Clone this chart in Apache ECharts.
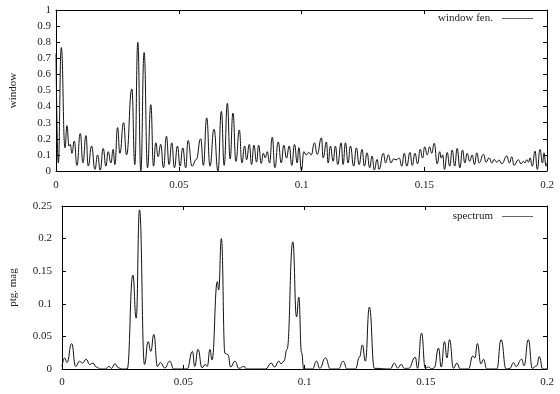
<!DOCTYPE html>
<html>
<head>
<meta charset="utf-8">
<script src="https://cdn.jsdelivr.net/npm/echarts@6/dist/echarts.min.js"></script>
<style>
html,body{margin:0;padding:0;background:#fff;}
#chart{width:560px;height:394px;}
</style>
</head>
<body>
<div id="chart"></div>
<script>
// ---- data ----
const xTicks = [0, 0.05, 0.1, 0.15, 0.2];
const winTicks = [0, 0.1, 0.2, 0.3, 0.4, 0.5, 0.6, 0.7, 0.8, 0.9, 1];
const specTicks = [0, 0.05, 0.1, 0.15, 0.2, 0.25];
const winName = 'window fen.';
const specName = 'spectrum';
const winAxisTitle = 'window';
const specAxisTitle = 'ptg. mag';

const winX = [0,0.00093,0.00215,0.00366,0.00447,0.00528,0.00581,0.0065,0.00744,0.00854,0.00988,0.01098,0.0122,0.01313,0.01451,0.01585,0.01695,0.01801,0.01923,0.02033,0.02126,0.02236,0.02329,0.02398,0.02508,0.02602,0.02752,0.02874,0.03089,0.03211,0.03333,0.03455,0.03589,0.03728,0.03862,0.03972,0.04065,0.04159,0.04268,0.04378,0.045,0.04606,0.04715,0.04825,0.04947,0.05053,0.05163,0.05285,0.05378,0.05541,0.0571,0.05894,0.06004,0.06138,0.06272,0.06435,0.06598,0.06736,0.0685,0.0698,0.07093,0.07207,0.07329,0.07467,0.07573,0.07683,0.07764,0.07874,0.07967,0.08061,0.08171,0.08252,0.08362,0.08443,0.08524,0.08606,0.08699,0.08809,0.08915,0.09053,0.09175,0.0928,0.0939,0.095,0.09606,0.09715,0.09825,0.0989,0.1,0.10093,0.10191,0.10297,0.10395,0.10528,0.10638,0.10813,0.10882,0.11016,0.11085,0.11179,0.11289,0.11382,0.11476,0.11614,0.11695,0.11789,0.11898,0.11992,0.12126,0.12236,0.12346,0.12467,0.12561,0.12671,0.12776,0.12874,0.12967,0.13077,0.13159,0.13333,0.13427,0.13537,0.13646,0.1374,0.13862,0.13984,0.14085,0.14187,0.14289,0.14419,0.14512,0.14622,0.14728,0.14837,0.14931,0.1502,0.15122,0.15215,0.15305,0.15407,0.15528,0.1563,0.15691,0.15752,0.15825,0.15935,0.16037,0.16138,0.1624,0.16341,0.16451,0.16557,0.16654,0.16748,0.1685,0.16951,0.17045,0.17142,0.17236,0.17411,0.1752,0.17642,0.17752,0.17846,0.17955,0.18049,0.18159,0.18362,0.18467,0.18565,0.18659,0.18833,0.18943,0.19037,0.19106,0.19175,0.19248,0.19309,0.19402,0.19512,0.19606,0.19715,0.19817,0.19878,0.19959,0.2];
const winY = [0.73,0.05,0.767,0.144,0.282,0.155,0.165,0.11,0.186,0.035,0.233,0.051,0.22,0.031,0.155,0.01,0.1,0.006,0.14,0.03,0.12,0.05,0.134,0.04,0.27,0.11,0.3,0.1,0.51,0.04,0.8,0.0,0.736,0.02,0.412,0.03,0.175,0.09,0.165,0.02,0.216,0.04,0.175,0.02,0.155,0.03,0.144,0.02,0.19,0.03,0.07,0.2,0.035,0.33,0.03,0.26,0.0,0.37,0.035,0.42,0.075,0.36,0.06,0.255,0.05,0.155,0.07,0.165,0.04,0.16,0.055,0.16,0.047,0.11,0.082,0.12,0.05,0.21,0.02,0.18,0.05,0.16,0.08,0.155,0.035,0.165,0.05,0.145,0.005,0.12,0.1,0.115,0.1,0.175,0.103,0.206,0.082,0.18,0.05,0.155,0.06,0.155,0.04,0.175,0.04,0.175,0.05,0.155,0.03,0.144,0.04,0.134,0.03,0.113,0.02,0.093,0.006,0.072,0.01,0.11,0.05,0.1,0.05,0.075,0.07,0.08,0.03,0.11,0.03,0.115,0.035,0.11,0.045,0.135,0.08,0.15,0.1,0.15,0.11,0.172,0.045,0.12,0.08,0.1,0.01,0.115,0.03,0.13,0.03,0.14,0.02,0.13,0.05,0.11,0.06,0.1,0.04,0.113,0.05,0.103,0.055,0.082,0.05,0.072,0.055,0.068,0.045,0.093,0.05,0.088,0.035,0.07,0.045,0.06,0.05,0.07,0.055,0.082,0.03,0.124,0.01,0.134,0.05,0.113,0.03,0.05];

const specX = [0,0.0011,0.00206,0.00398,0.00562,0.00727,0.00837,0.01001,0.01139,0.01276,0.01413,0.01591,0.01797,0.01934,0.02044,0.02181,0.02346,0.02483,0.02689,0.02922,0.03059,0.03196,0.03402,0.03553,0.03663,0.03786,0.03937,0.0406,0.04239,0.04444,0.04609,0.05158,0.05379,0.05473,0.05609,0.05775,0.05912,0.0599,0.06103,0.06185,0.06407,0.06461,0.06572,0.0672,0.06844,0.06955,0.07132,0.07296,0.07502,0.07613,0.08395,0.0863,0.08765,0.08942,0.09033,0.09148,0.0928,0.09519,0.09671,0.09765,0.09877,0.09971,0.10329,0.10494,0.1063,0.10864,0.1107,0.11399,0.11593,0.11757,0.12099,0.12276,0.12387,0.1251,0.12675,0.12881,0.13539,0.13704,0.1384,0.13992,0.14115,0.14292,0.14568,0.14663,0.14827,0.1498,0.15115,0.15255,0.1535,0.15527,0.15638,0.15774,0.15872,0.1598,0.16144,0.16284,0.1642,0.16761,0.16942,0.17025,0.17132,0.17272,0.17379,0.17519,0.1793,0.18107,0.18313,0.18477,0.18613,0.18724,0.18959,0.19053,0.19231,0.19395,0.19576,0.19683,0.19823,0.2];
const specY = [0.004,0.017,0.01,0.039,0.004,0.012,0.009,0.015,0.007,0.009,0.003,0,0,0.004,0.001,0.008,0.0015,0,0,0.144,0.078,0.244,0.007,0.042,0.027,0.053,0.004,0.01,0.0015,0.012,0,0,0.027,0.004,0.03,0.002,0.007,0.004,0.03,0.014,0.134,0.121,0.2,0.024,0.022,0.003,0.012,0.001,0.004,0,0,0.009,0.003,0.012,0.008,0.012,0.03,0.195,0.08,0.11,0.025,0,0,0.012,0.001,0.017,0,0,0.012,0,0,0.019,0.037,0.012,0.095,0.001,0,0.009,0.0015,0.007,0.001,0.001,0.018,0.001,0.055,0.0015,0.003,0,0.002,0.032,0.003,0.042,0.017,0.045,0.001,0.009,0,0,0.02,0.017,0.039,0.008,0.015,0,0,0.045,0,0.001,0.01,0.004,0.015,0.005,0.045,0.001,0.005,0.019,0,0];

// ---- chart ----
const FONT = 'Liberation Serif';
const TXT = '#222';
const fmt = v => String(parseFloat(Number(v).toFixed(4)));
function step(arr){ return parseFloat((arr[1]-arr[0]).toFixed(6)); }

function xAx(grid, pos, labels, margin){
  return {
    type:'value', gridIndex:grid, position:pos,
    min:xTicks[0], max:xTicks[xTicks.length-1], interval:step(xTicks),
    axisLine:{show:true, onZero:false, lineStyle:{color:'#000', width:1}},
    axisTick:{show:true, inside:true, length:4, lineStyle:{color:'#000'}},
    axisLabel:{show:labels, margin:margin || 8, fontFamily:FONT, fontSize:11, color:TXT, formatter:fmt},
    splitLine:{show:false}
  };
}
function yAx(grid, pos, ticks, name, gap, margin){
  return {
    type:'value', gridIndex:grid, position:pos,
    min:ticks[0], max:ticks[ticks.length-1], interval:step(ticks),
    name: name || '', nameLocation:'middle', nameGap:gap || 0,
    nameTextStyle:{fontFamily:FONT, fontSize:11, color:TXT},
    axisLine:{show:true, onZero:false, lineStyle:{color:'#000', width:1}},
    axisTick:{show:true, inside:true, length:4, lineStyle:{color:'#000'}},
    axisLabel:{show:!!name, margin:margin || 5, fontFamily:FONT, fontSize:11, color:TXT, formatter:fmt},
    splitLine:{show:false}
  };
}
function legendFor(name, top){
  return {
    data:[name], right:27, top:top, padding:0, align:'right', orient:'horizontal',
    icon:'rect', itemWidth:31, itemHeight:1, selectedMode:false,
    itemStyle:{color:'#666'},
    textStyle:{fontFamily:FONT, fontSize:11, color:TXT, padding:[0,4,0,0]}
  };
}

const chart = echarts.init(document.getElementById('chart'), null, {renderer:'canvas'});
chart.setOption({
  animation:false,
  backgroundColor:'#fff',
  grid:[
    {left:55, right:13, top:10, height:161},
    {left:61, right:13, top:206, height:163}
  ],
  legend:[legendFor(winName, 13), legendFor(specName, 211)],
  xAxis:[xAx(0,'bottom',true,9), xAx(0,'top',false), xAx(1,'bottom',true,8), xAx(1,'top',false)],
  yAxis:[yAx(0,'left',winTicks,winAxisTitle,37,5), yAx(0,'right',winTicks), yAx(1,'left',specTicks,specAxisTitle,43,10), yAx(1,'right',specTicks)],
  series:[
    {name:winName, type:'line', xAxisIndex:0, yAxisIndex:0,
     data:winX.map((x,i)=>[x, winY[i]]), showSymbol:false, symbol:'none',
     smooth:0.5, smoothMonotone:'x', lineStyle:{color:'#111', width:1}, itemStyle:{color:'#111'}},
    {name:specName, type:'line', xAxisIndex:2, yAxisIndex:2,
     data:specX.map((x,i)=>[x, specY[i]]), showSymbol:false, symbol:'none',
     smooth:0.5, smoothMonotone:'x', lineStyle:{color:'#111', width:1}, itemStyle:{color:'#111'}}
  ]
});
</script>
</body>
</html>
